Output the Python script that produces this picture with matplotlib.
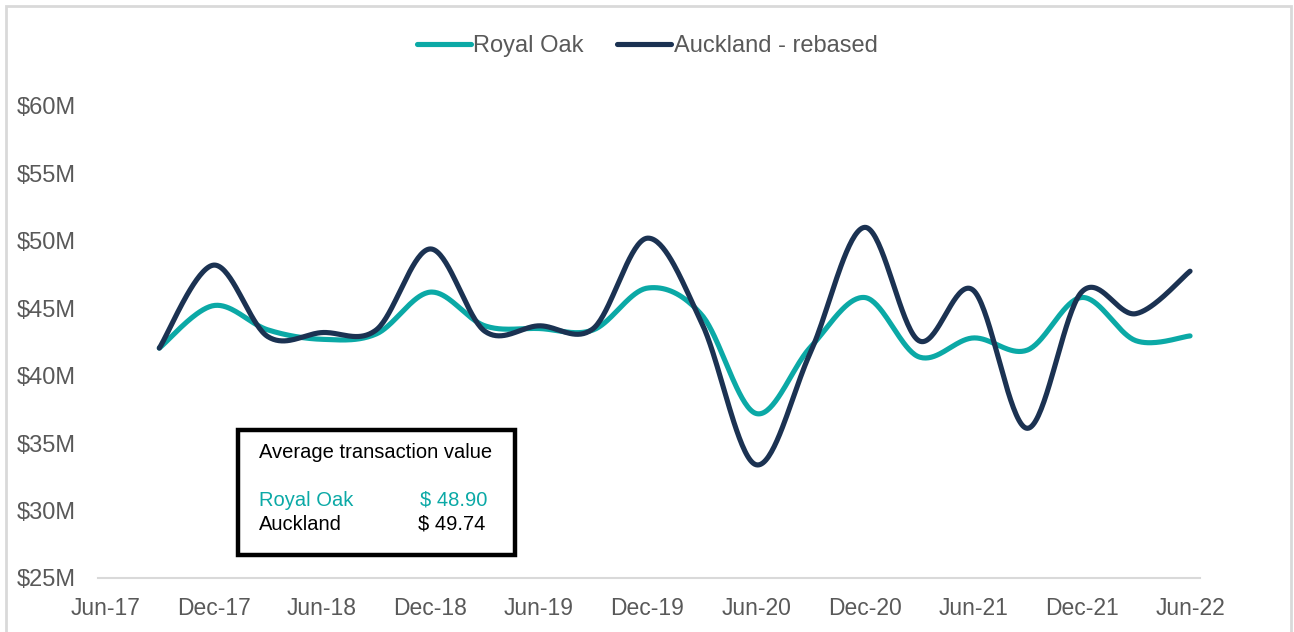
import numpy as np
import matplotlib
matplotlib.use("Agg")
import matplotlib.pyplot as plt
from matplotlib.patches import Rectangle

plt.rcParams['font.family'] = ['Liberation Sans', 'DejaVu Sans']

# quarterly points, months after Jun-17
quarters = ["Sep-17", "Dec-17", "Mar-18", "Jun-18", "Sep-18", "Dec-18", "Mar-19",
            "Jun-19", "Sep-19", "Dec-19", "Mar-20", "Jun-20", "Sep-20", "Dec-20",
            "Mar-21", "Jun-21", "Sep-21", "Dec-21", "Mar-22", "Jun-22"]
months = [3, 6, 9, 12, 15, 18, 21, 24, 27, 30, 33, 36, 39, 42, 45, 48, 51, 54, 57, 60]
royal_oak = [42.05, 45.2, 43.4, 42.7, 43.1, 46.2, 43.7, 43.5, 43.4, 46.5, 44.5, 37.2,
             42.1, 45.8, 41.4, 42.8, 41.9, 45.8, 42.6, 42.95]
auckland = [42.05, 48.2, 42.9, 43.2, 43.4, 49.4, 43.3, 43.7, 43.5, 50.2, 43.9, 33.4,
            41.7, 51.0, 42.6, 46.35, 36.1, 46.2, 44.6, 47.75]

tick_months = [0, 6, 12, 18, 24, 30, 36, 42, 48, 54, 60]
tick_labels = ["Jun-17", "Dec-17", "Jun-18", "Dec-18", "Jun-19", "Dec-19",
               "Jun-20", "Dec-20", "Jun-21", "Dec-21", "Jun-22"]
yticks = [25, 30, 35, 40, 45, 50, 55, 60]

avg_royal = 48.90
avg_auck = 49.74

teal = '#0BA9A6'
navy = '#1B3252'


def smooth(x, y, n=40):
    """
    excel-like smoothed line (bezier with catmull-rom tangents)
    """
    x = np.asarray(x, float)
    y = np.asarray(y, float)
    px = np.concatenate(([x[0]], x, [x[-1]]))
    py = np.concatenate(([y[0]], y, [y[-1]]))
    outx = []
    outy = []
    t = np.linspace(0, 1, n)
    for i in range(1, len(px) - 2):
        p0 = np.array([px[i], py[i]])
        p3 = np.array([px[i + 1], py[i + 1]])
        p1 = p0 + (np.array([px[i + 1], py[i + 1]]) - np.array([px[i - 1], py[i - 1]])) / 6
        p2 = p3 - (np.array([px[i + 2], py[i + 2]]) - np.array([px[i], py[i]])) / 6
        b = ((1 - t) ** 3)[:, None] * p0 + (3 * (1 - t) ** 2 * t)[:, None] * p1 \
            + (3 * (1 - t) * t ** 2)[:, None] * p2 + (t ** 3)[:, None] * p3
        outx.extend(b[:, 0])
        outy.extend(b[:, 1])
    return np.array(outx), np.array(outy)


fig = plt.figure(figsize=(12.94, 6.32), dpi=100)
ax = fig.add_axes([98 / 1294, 1 - 578 / 632, (1200 - 98) / 1294, (578 - 106) / 632])

sx, sy = smooth(months, royal_oak)
ax.plot(sx, sy, color=teal, lw=3.7, solid_capstyle='round', label='Royal Oak')
sx, sy = smooth(months, auckland)
ax.plot(sx, sy, color=navy, lw=3.7, solid_capstyle='round', label='Auckland - rebased')

ax.set_xlim(-0.39, 60.55)
ax.set_ylim(25, 60)
ax.set_xticks(tick_months)
ax.set_xticklabels(tick_labels)
ax.set_yticks(yticks)
ax.set_yticklabels(['$%dM' % v for v in yticks])
ax.tick_params(length=0, colors='#595959')
ax.tick_params(axis='x', labelsize=16.5, pad=14)
ax.tick_params(axis='y', labelsize=17, pad=16)
for s in ['top', 'right', 'left']:
    ax.spines[s].set_visible(False)
ax.spines['bottom'].set_color('#D9D9D9')
ax.spines['bottom'].set_linewidth(1.5)

leg = fig.legend(loc='center', bbox_to_anchor=(0.5, 1 - 46 / 632), ncol=2, frameon=False,
                 fontsize=17, handlelength=2.3, handletextpad=0.1, columnspacing=1.4,
                 labelcolor='#595959')

# info box
box = Rectangle((238 / 1294, 1 - 555 / 632), (515 - 238) / 1294, (555 - 430) / 632,
                transform=fig.transFigure, facecolor='white', edgecolor='black', lw=3.2, zorder=5)
fig.patches.append(box)
fig.text(259 / 1294, 1 - 453 / 632, 'Average transaction value', fontsize=14.5,
         va='center', ha='left', color='black', zorder=6)
fig.text(259 / 1294, 1 - 500 / 632, 'Royal Oak', fontsize=14.5, va='center', ha='left',
         color=teal, zorder=6)
fig.text(487 / 1294, 1 - 500 / 632, '$ %.2f' % avg_royal, fontsize=14.5, va='center',
         ha='right', color=teal, zorder=6)
fig.text(259 / 1294, 1 - 524 / 632, 'Auckland', fontsize=14.5, va='center', ha='left',
         color='black', zorder=6)
fig.text(485 / 1294, 1 - 524 / 632, '$ %.2f' % avg_auck, fontsize=14.5, va='center',
         ha='right', color='black', zorder=6)

# outer border of the chart
border = Rectangle((6 / 1294, -0.1), (1291 - 6) / 1294, 1.1 - 6 / 632,
                   transform=fig.transFigure, fill=False, edgecolor='#D9D9D9', lw=2)
fig.patches.append(border)

fig.savefig('out.png', dpi=100)
